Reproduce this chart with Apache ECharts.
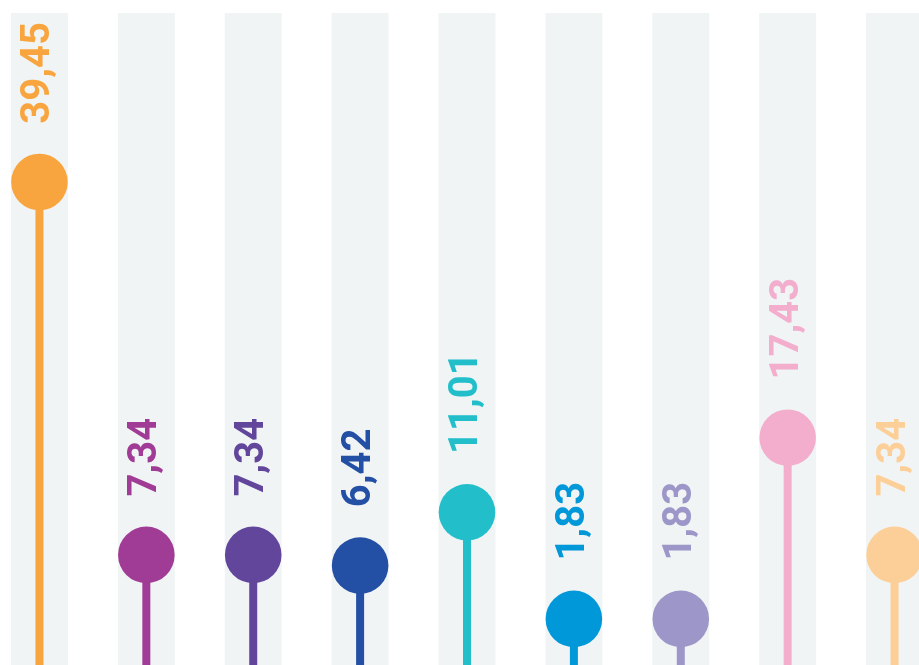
<!DOCTYPE html>
<html>
<head>
<meta charset="utf-8">
<script src="https://cdn.jsdelivr.net/npm/echarts@6/dist/echarts.min.js"></script>
<style>
    html, body { margin: 0; padding: 0; background: #ffffff; overflow: hidden; width: 919px; height: 665px; }
    /* 图表比窗口略宽略高，首尾两列被裁掉一部分 */
    #chart { position: absolute; left: -14px; top: 0; width: 962px; height: 675px; }
</style>
</head>
<body>
<div id="chart"></div>
<script>
var categories = ['1', '2', '3', '4', '5', '6', '7', '8', '9'];
var values = [39.45, 7.34, 7.34, 6.42, 11.01, 1.83, 1.83, 17.43, 7.34];
var colorList = [
    '#F9A53F', '#A03C95', '#62469C', '#234FA4', '#22BFCB',
    '#0098D8', '#9C97C8', '#F3AECD', '#FDCF98'
];
var yMin = -3, yMax = 54;

var myChart = echarts.init(document.getElementById('chart'));

var option = {
    animation: false,
    backgroundColor: '#ffffff',
    grid: {
        left: 0,
        right: 0,
        top: 13,
        bottom: 0
    },
    xAxis: {
        type: 'category',
        data: categories,
        show: false
    },
    yAxis: {
        type: 'value',
        min: yMin,
        max: yMax,
        show: false,
        splitLine: { show: false }
    },
    series: [{
        type: 'custom',
        data: values.map(function(v, i) { return [i, v]; }),
        renderItem: function(params, api) {
            var i = api.value(0), v = api.value(1);
            var p = api.coord([i, v]);
            var base = api.coord([i, yMin]);
            var cs = params.coordSys;
            var bw = api.size([1, 0])[0] * 0.533;
            var color = colorList[params.dataIndex];
            var r = 28.3;
            return {
                type: 'group',
                children: [
                    // 背景条
                    { type: 'rect', shape: { x: p[0] - bw / 2, y: cs.y, width: bw, height: cs.height }, style: { fill: '#F0F4F5' } },
                    // 竖线
                    { type: 'line', shape: { x1: p[0], y1: p[1], x2: p[0], y2: base[1] }, style: { stroke: color, lineWidth: 8 } },
                    // 圆点
                    { type: 'circle', shape: { cx: p[0], cy: p[1], r: r }, style: { fill: color } },
                    // 数值标签
                    {
                        type: 'text',
                        x: p[0],
                        y: p[1] - r - 30,
                        rotation: Math.PI / 2,
                        style: {
                            text: v.toFixed(2).replace('.', ','),
                            fill: color,
                            font: 'bold 40px Roboto',
                            align: 'left',
                            verticalAlign: 'middle'
                        }
                    }
                ]
            };
        }
    }]
};

myChart.setOption(option);
</script>
</body>
</html>
